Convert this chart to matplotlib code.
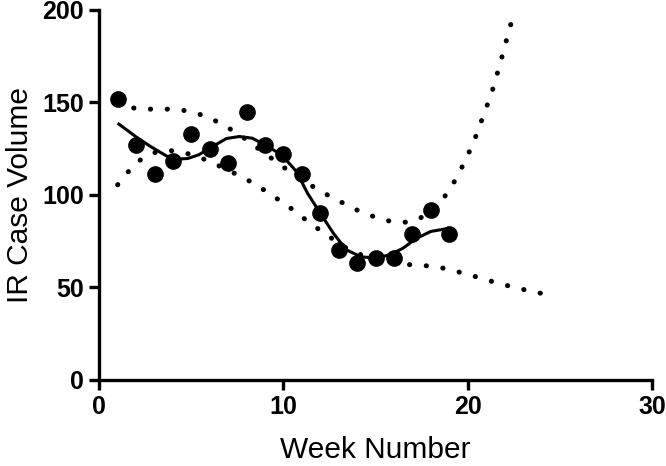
import numpy as np
import matplotlib
matplotlib.use("Agg")
import matplotlib.pyplot as plt

# weekly IR case counts
weeks = [1, 2, 3, 4, 5, 6, 7, 8, 9, 10, 11, 12, 13, 14, 15, 16, 17, 18, 19]
cases = [152, 127, 111, 118, 133, 125, 117, 145, 127, 122, 111, 90, 70, 63, 66, 66, 79, 92, 79]

# smoothed fit
fit_x = [1, 2, 2.8, 3.7, 4.0, 4.8, 5.4, 6.0, 6.9, 7.6, 8.3, 9.0, 9.9, 10.7,
         11.3, 12.0, 12.7, 13.4, 14.2, 15.0, 15.8, 16.5, 17.2, 18.0, 18.7, 19.0]
fit_y = [138.7, 131.3, 126.0, 120.7, 119.2, 119.6, 121.6, 125.2, 130.4, 131.5, 130.6, 127.0, 121.6, 112.6,
         100.9, 90.0, 79.3, 70.3, 66.5, 65.8, 67.6, 71.2, 76.4, 80.2, 81.4, 81.4]

# dotted bands
upper_x = [1.0, 1.86, 2.73, 3.64, 4.5, 5.37, 6.17, 6.93, 7.65, 8.37, 9.1, 9.82, 10.6,
           11.3, 12.03, 12.8, 13.58, 14.34, 15.16, 15.97, 16.85, 17.69, 18.36, 18.86,
           19.35, 19.75, 20.13, 20.47, 20.78, 21.09, 21.38, 21.63, 21.87, 22.1, 22.34, 22.55]
upper_y = [149.5, 146.9, 146.3, 146.3, 145.8, 143.8, 140.7, 136.6, 132.3, 126.8, 121.6, 116.2, 110.8,
           106.3, 101.8, 97.8, 93.7, 90.1, 87.4, 85.2, 85.2, 88.6, 92.6, 100.9,
           108.3, 116.2, 124.3, 132.4, 140.9, 149.4, 157.7, 166.5, 175.0, 183.6, 192.3, 199.5]
lower_x = [1.0, 1.5, 2.13, 2.86, 3.73, 4.58, 5.41, 6.2, 6.98, 7.74, 8.48, 9.24, 9.97, 10.7,
           11.36, 12.08, 12.86, 13.6, 14.4, 15.2, 16.0, 16.87, 17.78, 18.64, 19.46, 20.28,
           21.12, 21.96, 22.79, 23.62, 24.47]
lower_y = [105.4, 111.7, 118.2, 122.5, 124.1, 122.9, 120.4, 117.1, 113.3, 109.7, 105.6, 100.7, 95.7, 90.6,
           85.2, 80.2, 74.8, 70.0, 66.8, 64.6, 63.2, 62.2, 61.6, 60.4, 58.4, 56.2,
           53.7, 51.4, 49.3, 47.5, 45.7]

fig, ax = plt.subplots(figsize=(6.66, 4.66), dpi=100)
fig.subplots_adjust(left=0.149, right=0.979, bottom=0.185, top=0.979)

dot_style = dict(color="black", lw=3.6, linestyle=(0, (0.05, 3.3)), dash_capstyle="round")
ax.plot(upper_x, upper_y, **dot_style)
ax.plot(lower_x, lower_y, **dot_style)
ax.plot(fit_x, fit_y, color="black", lw=2.2, solid_capstyle="butt")
ax.plot(weeks, cases, "o", color="black", markersize=11, clip_on=False)

ax.set_xlim(0, 30)
ax.set_ylim(0, 200)
ax.set_xticks([0, 10, 20, 30])
ax.set_yticks([0, 50, 100, 150, 200])

for side in ["top", "right"]:
    ax.spines[side].set_visible(False)
for side in ["left", "bottom"]:
    ax.spines[side].set_linewidth(2.4)

ax.tick_params(width=2.4, length=7, pad=4)
for lab in ax.get_xticklabels() + ax.get_yticklabels():
    lab.set_fontfamily("Liberation Sans")
    lab.set_fontweight("bold")
    lab.set_fontsize(18)

ax.set_xlabel("Week Number", fontfamily="Liberation Sans", fontsize=21.5, labelpad=12)
ax.set_ylabel("IR Case Volume", fontfamily="Liberation Sans", fontsize=21.5, labelpad=6)

fig.savefig("out.png", dpi=100)
